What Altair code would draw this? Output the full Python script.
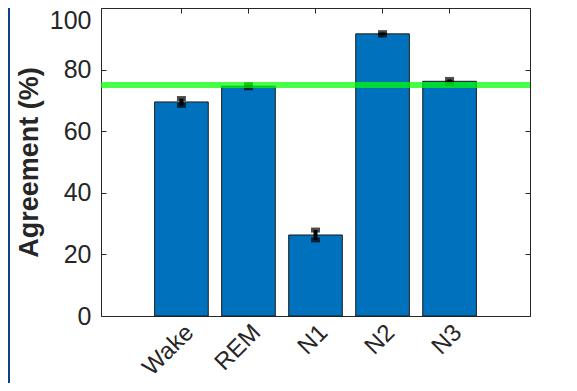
import altair as alt
import pandas as pd

stages = ["Wake", "REM", "N1", "N2", "N3"]
agreement = [69.5, 74.6, 26.3, 91.6, 76.2]
sem = [1.1, 0.5, 1.6, 0.4, 0.6]
threshold = [75]
y_ticks = [0, 20, 40, 60, 80, 100]

df = pd.DataFrame({"stage": stages, "agreement": agreement, "sem": sem})
df["lo"] = df["agreement"] - df["sem"]
df["hi"] = df["agreement"] + df["sem"]
thr = pd.DataFrame({"t": threshold})

W, H = 429, 308
font = "Liberation Sans"
grey = "#262626"
xscale = alt.Scale(type="band", domain=stages, paddingInner=0.2, paddingOuter=0.8)
yscale = alt.Scale(domain=[0, 100], nice=False, zero=True)
axis_common = dict(domain=False, grid=False, tickSize=5, tickColor=grey,
                   tickWidth=1, offset=-5)

bars = alt.Chart(df).mark_bar(color="#0072BD", stroke="#1a1a1a", strokeWidth=1).encode(
    x=alt.X("stage:N", scale=xscale, sort=stages,
            axis=alt.Axis(orient="bottom", title=None, labelAngle=-45, labelFontSize=24,
                          labelColor=grey, labelFont=font, labelPadding=4, **axis_common)),
    y=alt.Y("agreement:Q", scale=yscale,
            axis=alt.Axis(orient="left", values=y_ticks, title="Agreement (%)",
                          titleFont=font, titleFontSize=27, titleFontWeight="bold",
                          titleColor=grey, titleX=-69, titleY=H / 2,
                          titleBaseline="alphabetic",
                          labelBaseline=alt.expr("datum.value == 100 ? 'top' : 'middle'"),
                          labelFontSize=25, labelFont=font, labelColor=grey,
                          labelPadding=10, **axis_common)),
)

err = alt.Chart(df).mark_rule(color="black", strokeWidth=4).encode(
    x=alt.X("stage:N", scale=xscale, sort=stages, axis=None),
    y=alt.Y("lo:Q", scale=yscale, axis=None),
    y2="hi:Q",
)

caps = alt.Chart(df).transform_fold(["lo", "hi"]).mark_tick(
    color="black", thickness=5, size=9
).encode(
    x=alt.X("stage:N", scale=xscale, sort=stages,
            axis=alt.Axis(orient="top", title=None, labels=False, **axis_common)),
    y=alt.Y("value:Q", scale=yscale,
            axis=alt.Axis(orient="right", values=y_ticks, title=None, labels=False,
                          **axis_common)),
)

green = alt.Chart(thr).mark_rule(color="#00FF00", opacity=0.72, strokeWidth=6).encode(
    y=alt.Y("t:Q", scale=yscale, axis=None)
)

frame = alt.Chart(thr).mark_rule(color="#0d3f8f", strokeWidth=2).encode(
    x=alt.value(-92), y=alt.value(-10), y2=alt.value(H + 80)
)

chart = alt.layer(bars, err, caps, green, frame).resolve_axis(
    x="independent", y="independent"
).properties(
    width=W, height=H,
    autosize=alt.AutoSizeParams(type="none"),
    padding={"left": 93, "top": 0, "right": 39, "bottom": 67},
).configure_view(stroke=grey, strokeWidth=1)

chart.save("out.html", embed_options={"renderer": "svg", "actions": False})
